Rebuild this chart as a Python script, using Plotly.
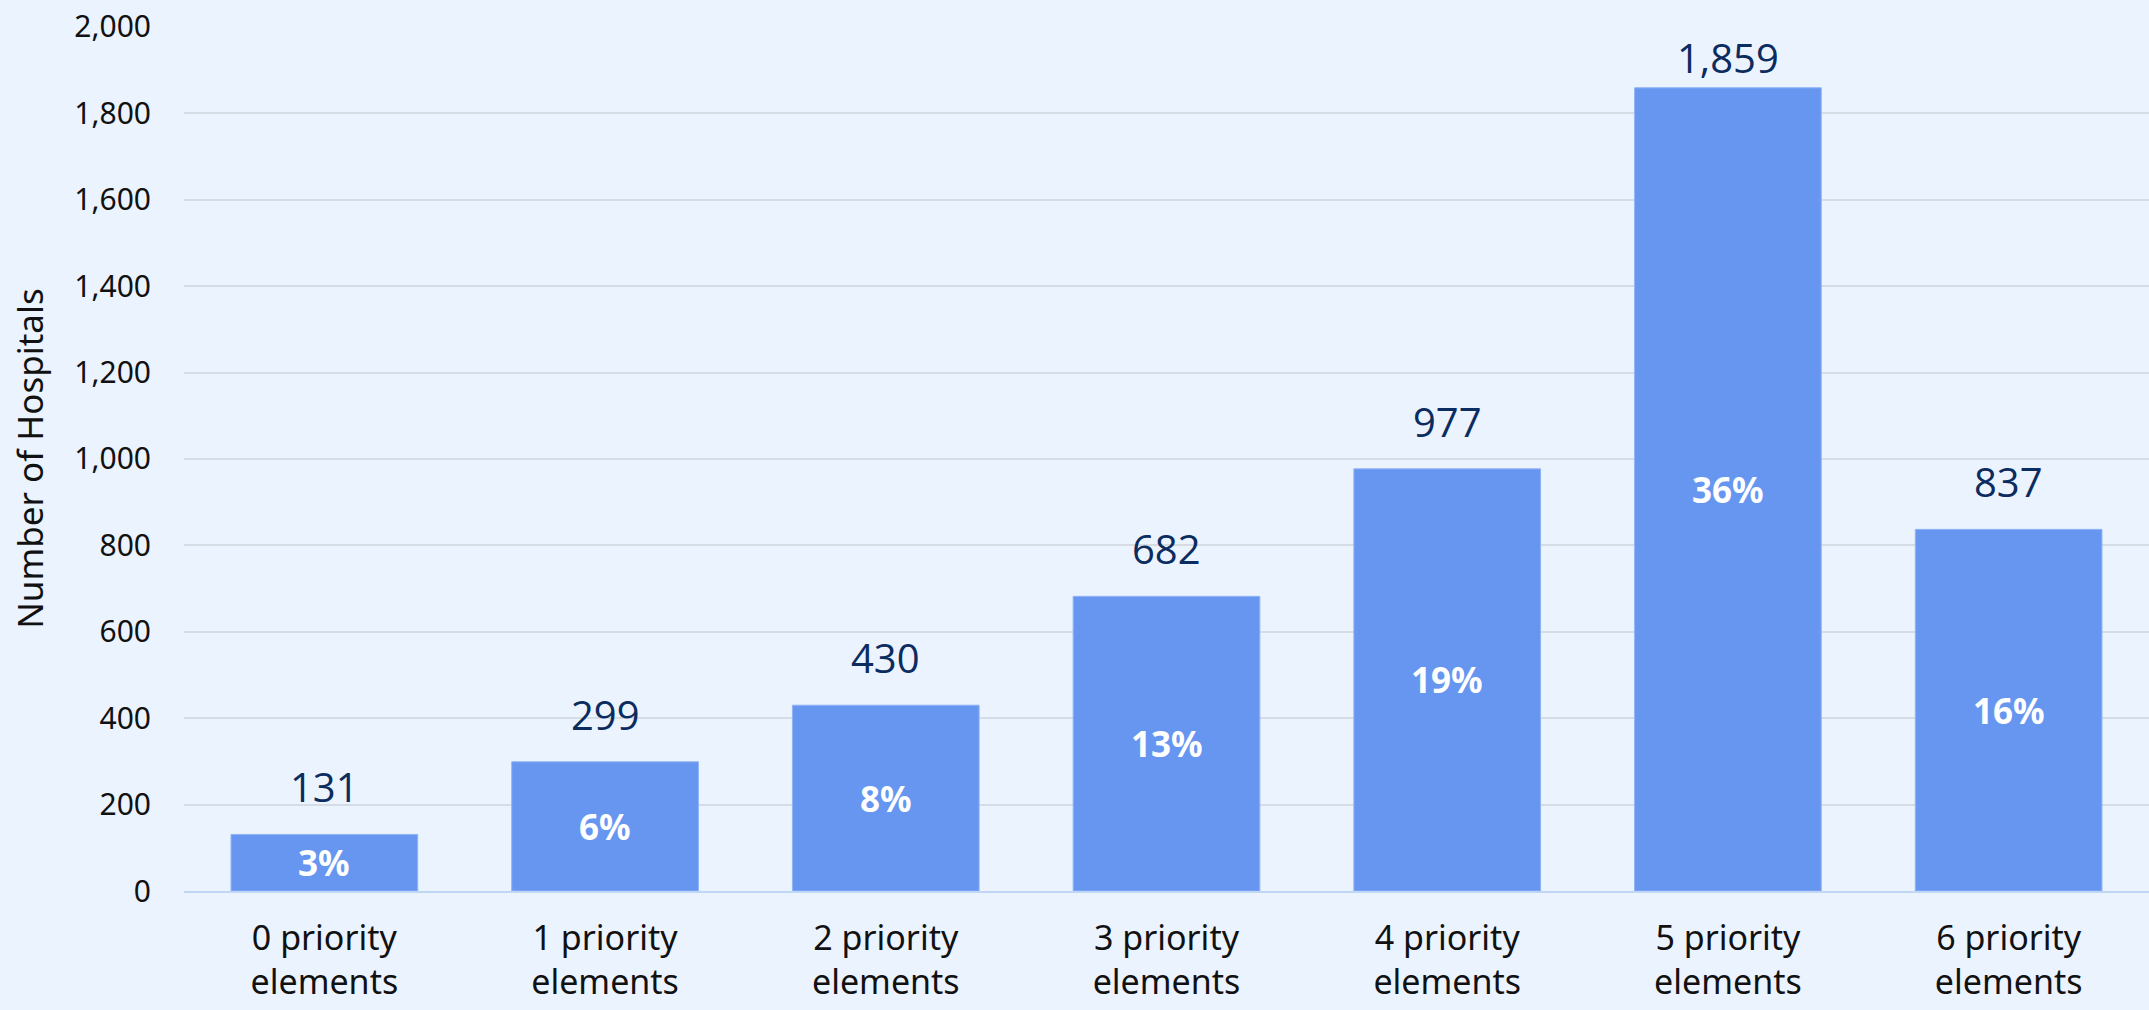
import plotly.graph_objects as go

categories = ["0 priority<br>elements", "1 priority<br>elements", "2 priority<br>elements",
              "3 priority<br>elements", "4 priority<br>elements", "5 priority<br>elements",
              "6 priority<br>elements"]
hospitals = [131, 299, 430, 682, 977, 1859, 837]
percents = ["3%", "6%", "8%", "13%", "19%", "36%", "16%"]
y_ticks = [0, 200, 400, 600, 800, 1000, 1200, 1400, 1600, 1800, 2000]

BG = "#EBF3FE"
BAR = "#6796F1"
NAVY = "#0B2C5F"
TICKFONT = "Noto Sans, Lato, sans-serif"

fig = go.Figure()
fig.add_trace(go.Bar(
    x=categories, y=hospitals,
    marker=dict(color=BAR, line=dict(color="#8FB3F5", width=1)),
    hoverinfo="skip",
))

annotations = []
for c, v, p in zip(categories, hospitals, percents):
    annotations.append(dict(
        x=c, y=min(v + 110, 1930), xref="x", yref="y", text=f"{v:,}",
        showarrow=False, yanchor="middle",
        font=dict(family="Open Sans, Noto Sans, sans-serif", size=40, color=NAVY),
    ))
    annotations.append(dict(
        x=c, y=v / 2, xref="x", yref="y", text=f"<b>{p}</b>",
        showarrow=False, yanchor="middle",
        font=dict(family=TICKFONT, size=35, color="white"),
    ))

fig.update_layout(
    width=2149, height=1010,
    paper_bgcolor=BG, plot_bgcolor=BG,
    margin=dict(l=184, r=0, t=26, b=119),
    bargap=0.335,
    showlegend=False,
    annotations=annotations,
    font=dict(family=TICKFONT, size=30, color="#111111"),
)
fig.update_xaxes(
    showgrid=False, showline=True, linecolor="#BFD7F5", linewidth=2,
    ticks="", ticklabelstandoff=16,
    tickfont=dict(size=34, color="#111111"),
)
fig.update_yaxes(
    range=[0, 2002], tickvals=y_ticks, tickformat=",",
    showgrid=True, gridcolor="#D6DCE4", gridwidth=2,
    zeroline=False, showline=False, ticks="", ticklabelstandoff=32,
    tickfont=dict(size=30, color="#111111"),
    title=dict(text="Number of Hospitals", standoff=20,
               font=dict(size=35, color="#111111")),
)

fig.write_html(
    "out.html",
    config={"displayModeBar": False},
    post_script="document.body.style.margin='0';document.body.style.background='#EBF3FE';",
)
